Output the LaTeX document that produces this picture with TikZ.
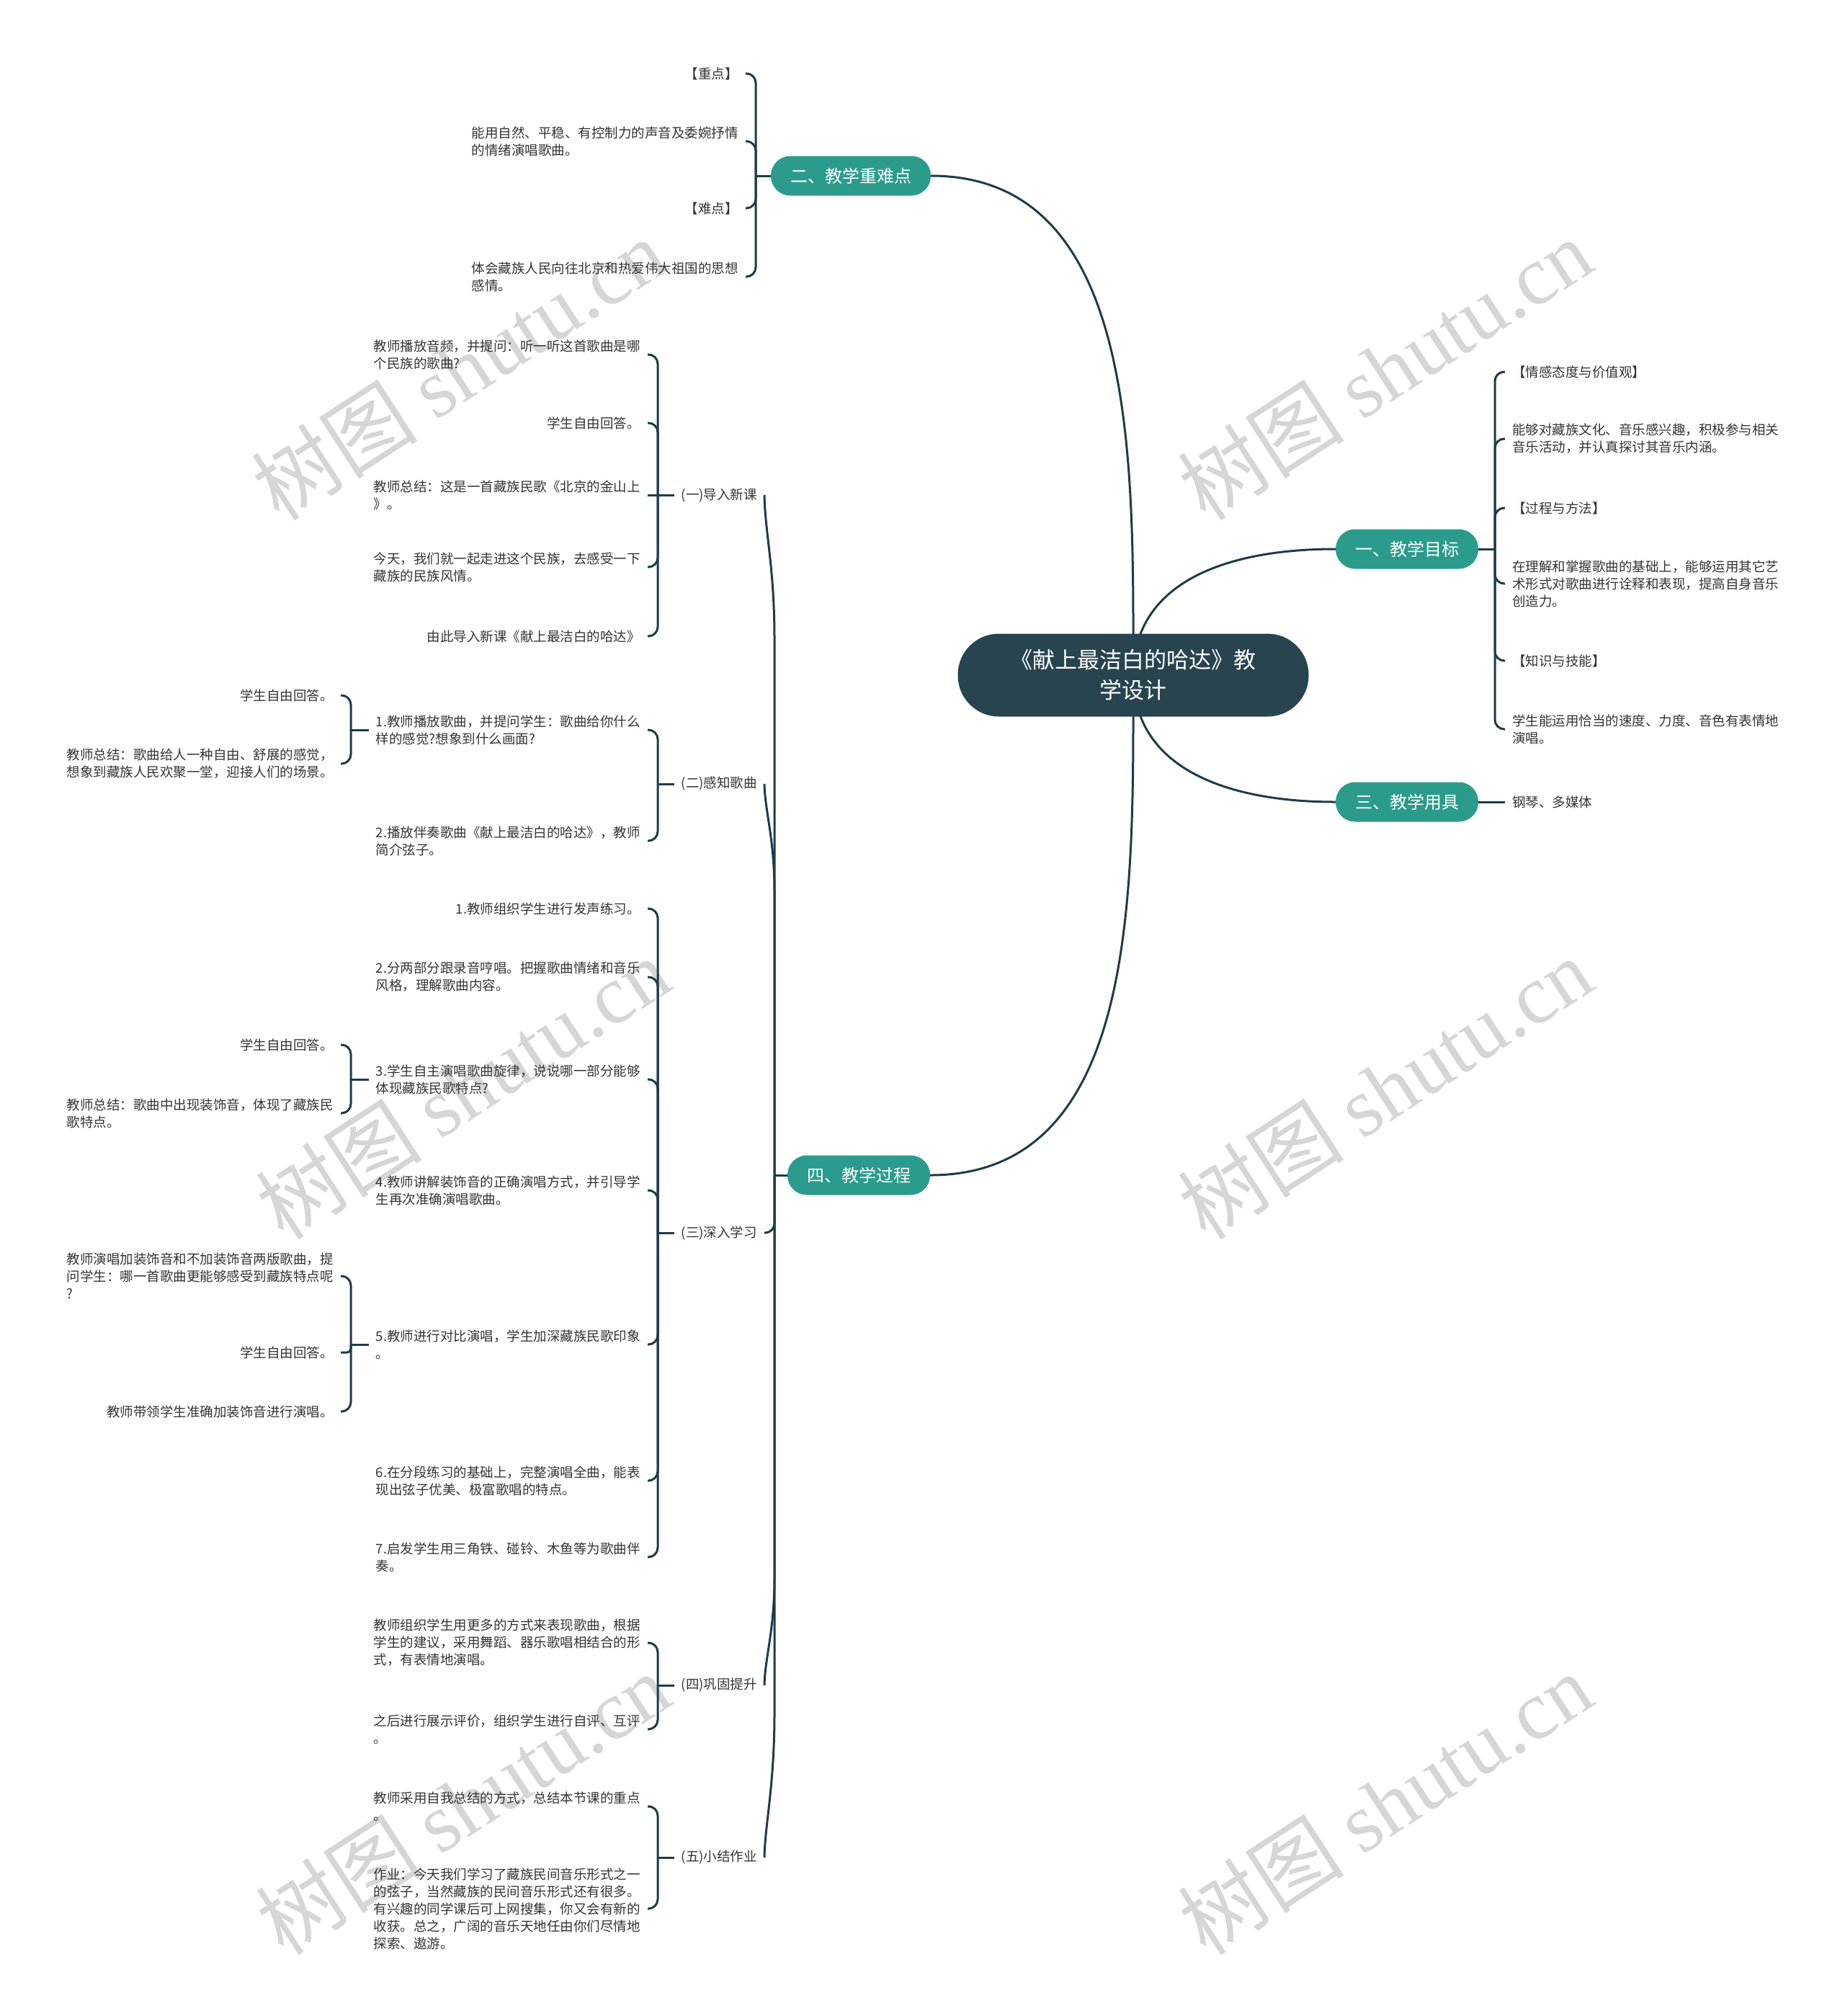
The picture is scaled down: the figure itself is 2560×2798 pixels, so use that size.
\documentclass[tikz,border=0pt]{standalone}
\usepackage{fontspec}
\newfontfamily\cjk{Noto Sans CJK SC}
\newfontfamily\wmserif{Liberation Serif}
\usepackage{tikz}
\usetikzlibrary{positioning, backgrounds}

\definecolor{rootblue}{HTML}{27444F}
\definecolor{topicteal}{HTML}{2B9C8C}
\definecolor{linkblue}{HTML}{203B48}
\definecolor{leafgray}{HTML}{333333}
\definecolor{wmgray}{HTML}{D6D6D6}

\begin{document}
\begin{tikzpicture}[
    x=1pt, y=-1pt,
    root/.style={
        rectangle, rounded corners=57pt,
        fill=rootblue, text=white,
        minimum width=487pt, minimum height=115pt,
        align=center, font=\cjk\fontsize{31}{42}\selectfont
    },
    topic/.style={
        rectangle, rounded corners=27pt,
        fill=topicteal, text=white,
        minimum height=55pt, inner xsep=27pt,
        font=\cjk\fontsize{24}{28}\selectfont
    },
    leaf/.style={font=\cjk\fontsize{18.5}{24}\selectfont, text=leafgray,
        align=left, inner xsep=10pt, inner ysep=2pt},
    link/.style={draw=linkblue, line width=3pt},
    brace/.style={link, rounded corners=13pt},
    wm/.style={text=wmgray, rotate=33, font=\cjk\fontsize{116}{116}\selectfont},
]
\useasboundingbox (0,0) rectangle (2560,2798);

% Centro e rami principali
\node[root] (root) at (1573,937) {《献上最洁白的哈达》教\\学设计};
\node[topic] (t2) at (1181,244) {二、教学重难点};
\node[topic] (t1) at (1953,762) {一、教学目标};
\node[topic] (t3) at (1953,1113) {三、教学用具};
\node[topic] (t4) at (1192,1631) {四、教学过程};

% Ramo due
\node[leaf, anchor=east] (k1) at (1035,102) {【重点】};
\node[leaf, anchor=east] (k2) at (1035,196) {能用自然、平稳、有控制力的声音及委婉抒情\\的情绪演唱歌曲。};
\node[leaf, anchor=east] (k3) at (1035,289) {【难点】};
\node[leaf, anchor=east] (k4) at (1035,384) {体会藏族人民向往北京和热爱伟大祖国的思想\\感情。};

% Ramo uno
\node[leaf, anchor=west] (g1) at (2089,516) {【情感态度与价值观】};
\node[leaf, anchor=west] (g2) at (2089,609) {能够对藏族文化、音乐感兴趣，积极参与相关\\音乐活动，并认真探讨其音乐内涵。};
\node[leaf, anchor=west] (g3) at (2089,705) {【过程与方法】};
\node[leaf, anchor=west] (g4) at (2089,810) {在理解和掌握歌曲的基础上，能够运用其它艺\\术形式对歌曲进行诠释和表现，提高自身音乐\\创造力。};
\node[leaf, anchor=west] (g5) at (2089,917) {【知识与技能】};
\node[leaf, anchor=west] (g6) at (2089,1012) {学生能运用恰当的速度、力度、音色有表情地\\演唱。};

% Ramo tre
\node[leaf, anchor=west] (m1) at (2089,1113) {钢琴、多媒体};

% Ramo quattro
\node[leaf, anchor=east] (s1) at (1061,687) {(一)导入新课};
\node[leaf, anchor=east] (s2) at (1061,1088) {(二)感知歌曲};
\node[leaf, anchor=east] (s3) at (1061,1711) {(三)深入学习};
\node[leaf, anchor=east] (s4) at (1061,2339) {(四)巩固提升};
\node[leaf, anchor=east] (s5) at (1061,2578) {(五)小结作业};

% (一)
\node[leaf, anchor=east] (a1) at (899,492) {教师播放音频，并提问：听一听这首歌曲是哪\\个民族的歌曲?};
\node[leaf, anchor=east] (a2) at (899,587) {学生自由回答。};
\node[leaf, anchor=east] (a3) at (899,687) {教师总结：这是一首藏族民歌《北京的金山上\\》。};
\node[leaf, anchor=east] (a4) at (899,787) {今天，我们就一起走进这个民族，去感受一下\\藏族的民族风情。};
\node[leaf, anchor=east] (a5) at (899,883) {由此导入新课《献上最洁白的哈达》};

% (二)
\node[leaf, anchor=east] (b1) at (899,1013) {1.教师播放歌曲，并提问学生：歌曲给你什么\\样的感觉?想象到什么画面?};
\node[leaf, anchor=east] (b2) at (899,1167) {2.播放伴奏歌曲《献上最洁白的哈达》，教师\\简介弦子。};
\node[leaf, anchor=east] (b11) at (473,965) {学生自由回答。};
\node[leaf, anchor=east] (b12) at (473,1060) {教师总结：歌曲给人一种自由、舒展的感觉，\\想象到藏族人民欢聚一堂，迎接人们的场景。};

% (三)
\node[leaf, anchor=east] (c1) at (899,1261) {1.教师组织学生进行发声练习。};
\node[leaf, anchor=east] (c2) at (899,1356) {2.分两部分跟录音哼唱。把握歌曲情绪和音乐\\风格，理解歌曲内容。};
\node[leaf, anchor=east] (c3) at (899,1498) {3.学生自主演唱歌曲旋律，说说哪一部分能够\\体现藏族民歌特点?};
\node[leaf, anchor=east] (c4) at (899,1652) {4.教师讲解装饰音的正确演唱方式，并引导学\\生再次准确演唱歌曲。};
\node[leaf, anchor=east] (c5) at (899,1866) {5.教师进行对比演唱，学生加深藏族民歌印象\\。};
\node[leaf, anchor=east] (c6) at (899,2055) {6.在分段练习的基础上，完整演唱全曲，能表\\现出弦子优美、极富歌唱的特点。};
\node[leaf, anchor=east] (c7) at (899,2161) {7.启发学生用三角铁、碰铃、木鱼等为歌曲伴\\奏。};
\node[leaf, anchor=east] (c31) at (473,1450) {学生自由回答。};
\node[leaf, anchor=east] (c32) at (473,1545) {教师总结：歌曲中出现装饰音，体现了藏族民\\歌特点。};
\node[leaf, anchor=east] (c51) at (473,1771) {教师演唱加装饰音和不加装饰音两版歌曲，提\\问学生：哪一首歌曲更能够感受到藏族特点呢\\?};
\node[leaf, anchor=east] (c52) at (473,1877) {学生自由回答。};
\node[leaf, anchor=east] (c53) at (473,1959) {教师带领学生准确加装饰音进行演唱。};

% (四) e (五)
\node[leaf, anchor=east] (d1) at (899,2280) {教师组织学生用更多的方式来表现歌曲，根据\\学生的建议，采用舞蹈、器乐歌唱相结合的形\\式，有表情地演唱。};
\node[leaf, anchor=east] (d2) at (899,2400) {之后进行展示评价，组织学生进行自评、互评\\。};
\node[leaf, anchor=east] (e1) at (899,2507) {教师采用自我总结的方式，总结本节课的重点\\。};
\node[leaf, anchor=east] (e2) at (899,2649) {作业：今天我们学习了藏族民间音乐形式之一\\的弦子，当然藏族的民间音乐形式还有很多。\\有兴趣的同学课后可上网搜集，你又会有新的\\收获。总之，广阔的音乐天地任由你们尽情地\\探索、遨游。};

% Punti di giunzione
\coordinate (j2) at (1049,244);
\coordinate (j1) at (2075,762);
\coordinate (j4) at (1075,1631);
\coordinate (js1) at (913,687);
\coordinate (js2) at (913,1088);
\coordinate (js3) at (913,1711);
\coordinate (js4) at (913,2339);
\coordinate (js5) at (913,2578);
\coordinate (jb1) at (487,1013);
\coordinate (jc3) at (487,1498);
\coordinate (jc5) at (487,1866);

\begin{scope}[on background layer]
% Filigrana
\node[wm] (w1) at (636,512) {树图 {\wmserif shutu.cn}};
\node[wm] (w2) at (1922,512) {树图 {\wmserif shutu.cn}};
\node[wm] (w3) at (642,1510) {树图 {\wmserif shutu.cn}};
\node[wm] (w4) at (1922,1510) {树图 {\wmserif shutu.cn}};
\node[wm] (w5) at (642,2503) {树图 {\wmserif shutu.cn}};
\node[wm] (w6) at (1922,2503) {树图 {\wmserif shutu.cn}};

% Centro -> rami
\draw[link] (root.center) .. controls +(0,-290) and +(290,0) .. (t2.east);
\draw[link] (root.center) .. controls +(0,-130) and +(-150,0) .. (t1.west);
\draw[link] (root.center) .. controls +(0,130) and +(-150,0) .. (t3.west);
\draw[link] (root.center) .. controls +(0,300) and +(290,0) .. (t4.east);
\end{scope}

% Ramo due -> foglie
\draw[link] (t2.west) -- (j2);
\draw[brace] (j2) |- (k1.east);
\draw[brace] (j2) |- (k2.east);
\draw[brace] (j2) |- (k3.east);
\draw[brace] (j2) |- (k4.east);

% Ramo uno -> foglie
\draw[link] (t1.east) -- (j1);
\draw[brace] (j1) |- (g1.west);
\draw[brace] (j1) |- (g2.west);
\draw[brace] (j1) |- (g3.west);
\draw[brace] (j1) |- (g4.west);
\draw[brace] (j1) |- (g5.west);
\draw[brace] (j1) |- (g6.west);

% Ramo tre
\draw[link] (t3.east) -- (m1.west);

% Ramo quattro -> fasi
\draw[link] (t4.west) -- (j4);
\draw[link] (j4) -- (1075,887) .. controls (1075,787) and (1062,740) .. (s1.east);
\draw[link] (j4) -- (1075,1238) .. controls (1075,1163) and (1062,1128) .. (s2.east);
\draw[brace] (j4) |- (s3.east);
\draw[link] (j4) -- (1075,2189) .. controls (1075,2264) and (1062,2299) .. (s4.east);
\draw[link] (j4) -- (1075,2378) .. controls (1075,2478) and (1062,2531) .. (s5.east);

% (一)
\draw[link] (s1.west) -- (js1);
\draw[brace] (js1) |- (a1.east);
\draw[brace] (js1) |- (a2.east);
\draw[link] (js1) -- (a3.east);
\draw[brace] (js1) |- (a4.east);
\draw[brace] (js1) |- (a5.east);

% (二)
\draw[link] (s2.west) -- (js2);
\draw[brace] (js2) |- (b1.east);
\draw[brace] (js2) |- (b2.east);
\draw[link] (b1.west) -- (jb1);
\draw[brace] (jb1) |- (b11.east);
\draw[brace] (jb1) |- (b12.east);

% (三)
\draw[link] (s3.west) -- (js3);
\draw[brace] (js3) |- (c1.east);
\draw[brace] (js3) |- (c2.east);
\draw[brace] (js3) |- (c3.east);
\draw[brace] (js3) |- (c4.east);
\draw[brace] (js3) |- (c5.east);
\draw[brace] (js3) |- (c6.east);
\draw[brace] (js3) |- (c7.east);
\draw[link] (c3.west) -- (jc3);
\draw[brace] (jc3) |- (c31.east);
\draw[brace] (jc3) |- (c32.east);
\draw[link] (c5.west) -- (jc5);
\draw[brace] (jc5) |- (c51.east);
\draw[link, rounded corners=5pt] (jc5) |- (c52.east);
\draw[brace] (jc5) |- (c53.east);

% (四) e (五)
\draw[link] (s4.west) -- (js4);
\draw[brace] (js4) |- (d1.east);
\draw[brace] (js4) |- (d2.east);
\draw[link] (s5.west) -- (js5);
\draw[brace] (js5) |- (e1.east);
\draw[brace] (js5) |- (e2.east);

\end{tikzpicture}
\end{document}
